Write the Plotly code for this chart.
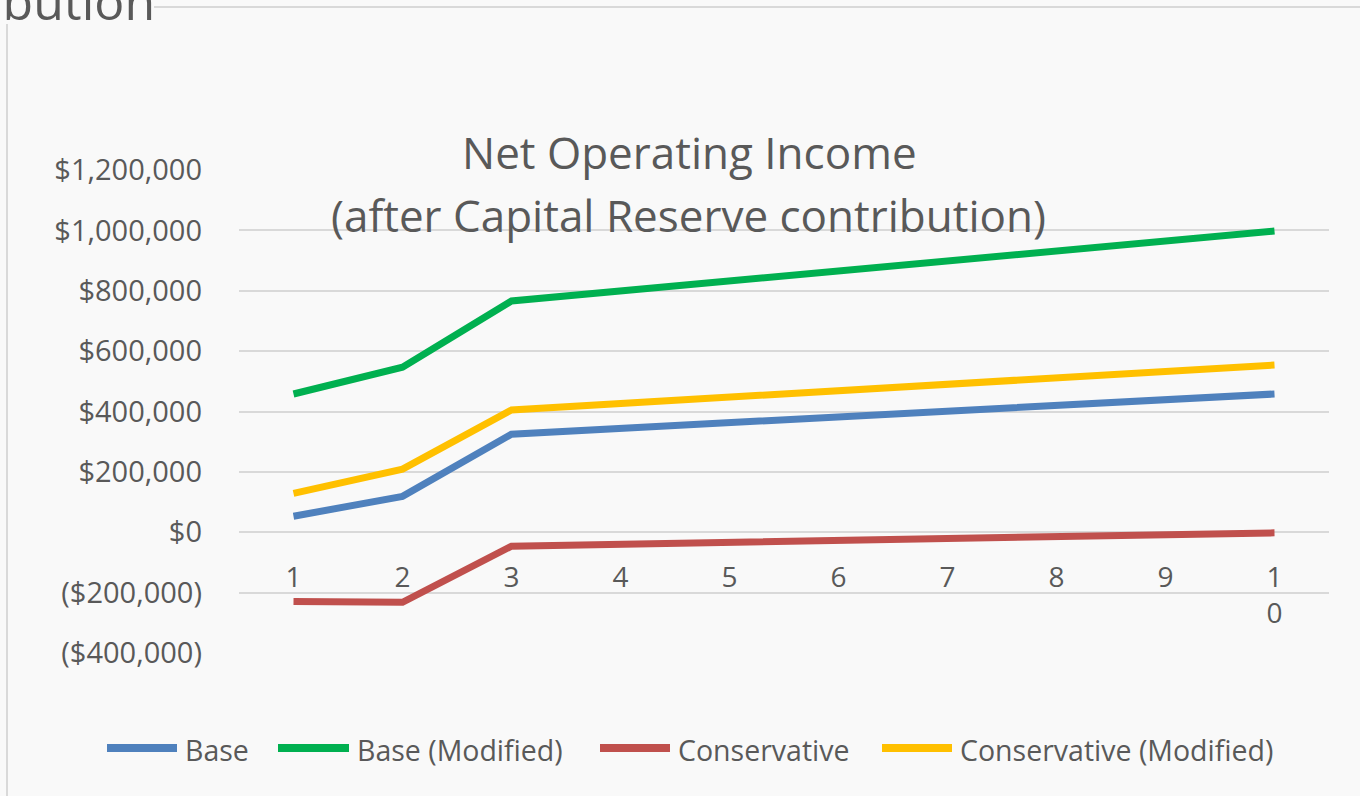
import plotly.graph_objects as go

# ---- data ----
years = [1, 2, 3, 4, 5, 6, 7, 8, 9, 10]
year_labels = ["1", "2", "3", "4", "5", "6", "7", "8", "9", "1<br>0"]

base = [53000, 119000, 325000, 344000, 363000, 382000, 401000, 420000, 439000, 458000]
base_modified = [458000, 547000, 766000, 799000, 832000, 865000, 898000, 931000, 964000, 998000]
conservative = [-229000, -232000, -46000, -40000, -33000, -27000, -20000, -14000, -8000, -2000]
conservative_modified = [129000, 209000, 405000, 426000, 447000, 469000, 490000, 511000, 533000, 554000]

series_names = ["Base", "Base (Modified)", "Conservative", "Conservative (Modified)"]
series_values = [base, base_modified, conservative, conservative_modified]
series_colors = ["#4F81BD", "#00B050", "#C0504D", "#FFC000"]

y_tick_values = [-400000, -200000, 0, 200000, 400000, 600000, 800000, 1000000, 1200000]
y_tick_labels = ["($400,000)", "($200,000)", "$0", "$200,000", "$400,000", "$600,000",
                 "$800,000", "$1,000,000", "$1,200,000"]

title_line1 = "Net Operating Income"
title_line2 = "(after Capital Reserve contribution)"
slide_title_fragment = "Distribution"

# ---- layout geometry ----
W, H = 1360, 796
L, R, T, B = 239, 31, 170, 143
PW, PH = W - L - R, H - T - B


def px(x):
    return (x - L) / PW


def py(y):
    return (H - B - y) / PH


TEXT = "#595959"
FONT = "Open Sans"
BG = "#f9f9f9"
GRID = "#d9d9d9"

fig = go.Figure()
for name, vals, col in zip(series_names, series_values, series_colors):
    fig.add_trace(go.Scatter(x=years, y=vals, name=name, mode="lines",
                             line=dict(color=col, width=7), showlegend=False))

annotations = [
    dict(text=title_line1, x=px(689), y=py(152), xref="paper", yref="paper",
         showarrow=False, font=dict(size=44, color=TEXT, family=FONT),
         xanchor="center", yanchor="middle"),
    dict(text=title_line2, x=px(688), y=py(215), xref="paper", yref="paper",
         showarrow=False, font=dict(size=44, color=TEXT, family=FONT),
         xanchor="center", yanchor="middle"),
    dict(text=slide_title_fragment, x=px(157), y=py(1), xref="paper", yref="paper",
         showarrow=False, font=dict(size=50, color=TEXT, family=FONT),
         xanchor="right", yanchor="middle"),
]

shapes = [
    dict(type="line", xref="paper", yref="paper", x0=px(154), x1=px(1360), y0=py(7), y1=py(7),
         line=dict(color=GRID, width=2)),
    dict(type="line", xref="paper", yref="paper", x0=px(7), x1=px(7), y0=py(24), y1=py(796),
         line=dict(color=GRID, width=2)),
]

# custom legend (70px line swatches like Excel)
legend_swatch_x = [(107, 177), (278, 349), (600, 670), (882, 952)]
legend_y = 748
for (x0, x1), name, col in zip(legend_swatch_x, series_names, series_colors):
    shapes.append(dict(type="line", xref="paper", yref="paper", x0=px(x0), x1=px(x1),
                       y0=py(legend_y), y1=py(legend_y), line=dict(color=col, width=8)))
    annotations.append(dict(text=name, x=px(x1 + 6), y=py(legend_y + 2), xref="paper", yref="paper",
                            showarrow=False, font=dict(size=28.5, color=TEXT, family=FONT),
                            xanchor="left", yanchor="middle"))

fig.update_layout(
    width=W, height=H,
    margin=dict(l=L, r=R, t=T, b=B),
    paper_bgcolor=BG, plot_bgcolor=BG,
    showlegend=False,
    annotations=annotations,
    shapes=shapes,
    xaxis=dict(range=[0.5, 10.5], tickvals=years, ticktext=year_labels,
               showgrid=False, zeroline=False, showline=False, ticks="",
               anchor="free", position=py(532), ticklabelstandoff=26,
               tickfont=dict(size=28, color=TEXT, family=FONT)),
    yaxis=dict(range=[-400000, 1200000], tickvals=y_tick_values, ticktext=y_tick_labels,
               showgrid=True, gridcolor=GRID, gridwidth=1.5, zeroline=False,
               showline=False, ticks="", ticklabelstandoff=36,
               tickfont=dict(size=29, color=TEXT, family=FONT)),
)

fig.write_html("out.html", config={"displayModeBar": False},
               post_script="document.body.style.margin='0px';")
